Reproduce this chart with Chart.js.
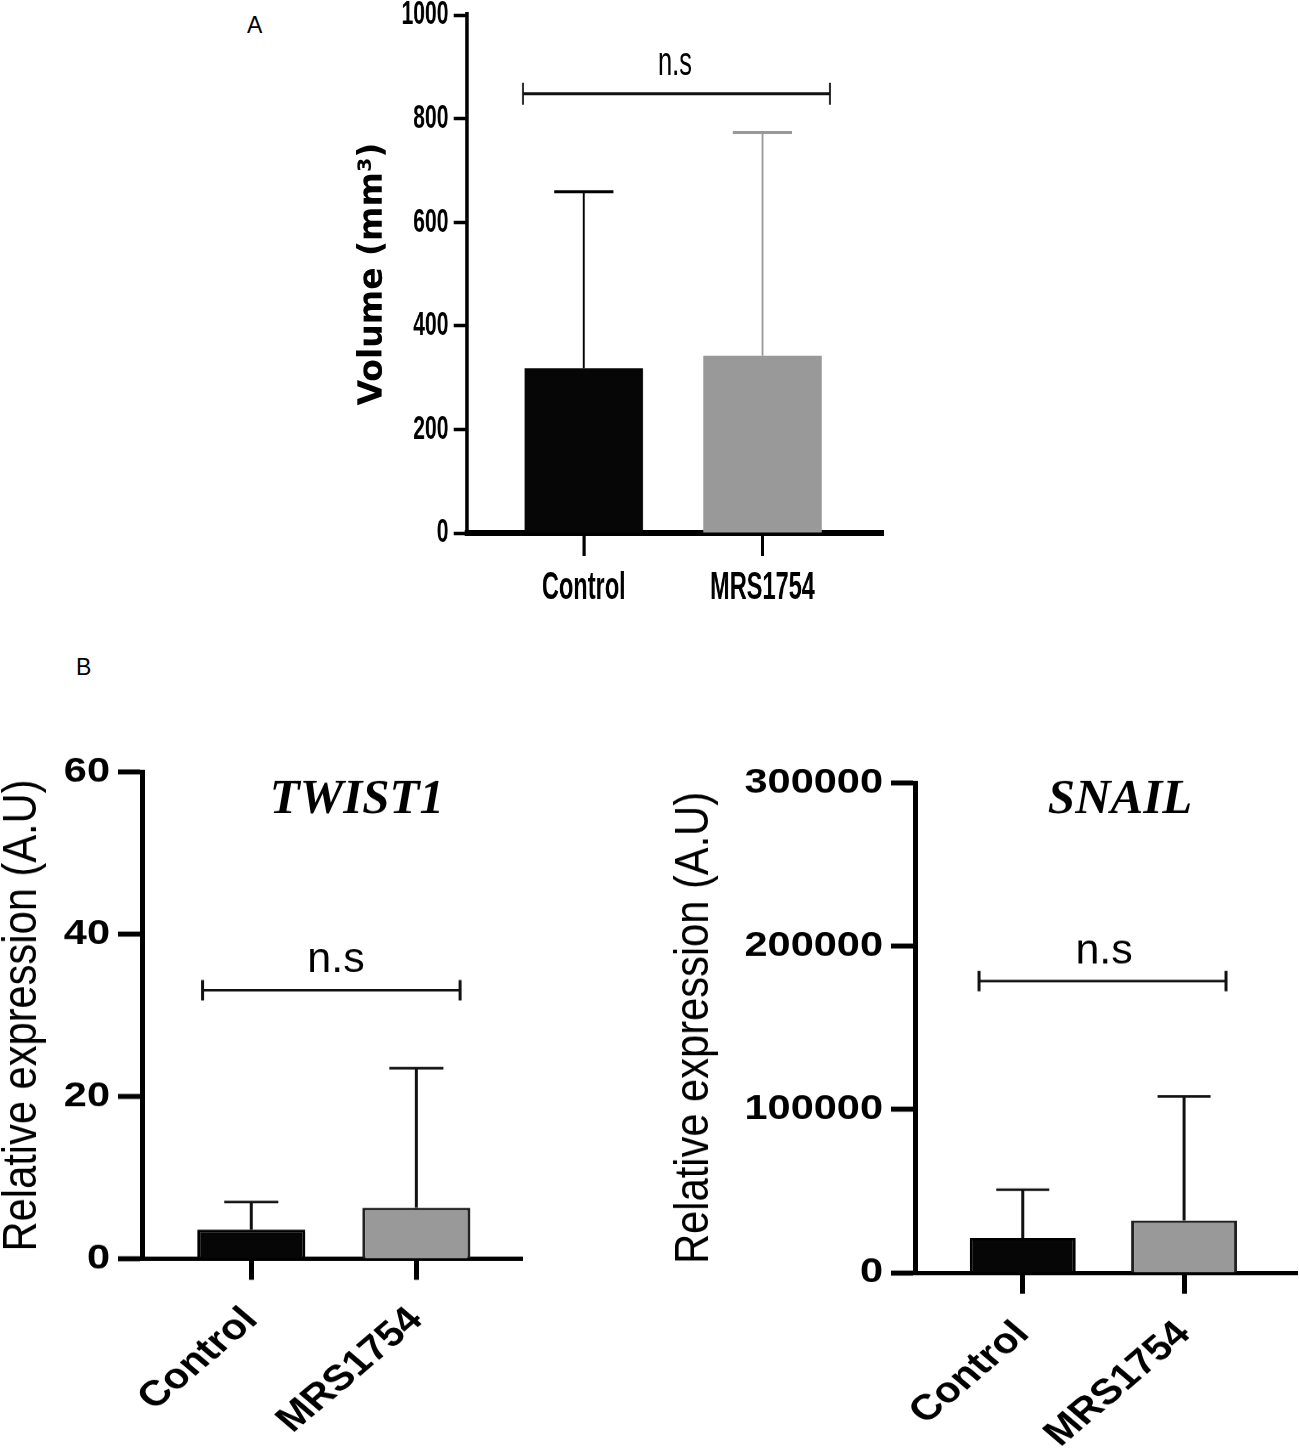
<!DOCTYPE html>
<html>
<head>
<meta charset="utf-8">
<script src="https://cdn.jsdelivr.net/npm/chart.js@4.4.0/dist/chart.umd.min.js"></script>
<style>
  html, body { margin: 0; padding: 0; background: #fff; }
  body { position: relative; width: 1299px; height: 1452px; overflow: hidden; }
  canvas { position: absolute; }
  .panel { position: absolute; font-family: 'Liberation Sans', Arial, sans-serif; font-size: 23px; color: #000; }
</style>
</head>
<body>
<div class="panel" style="left:247px; top:12px;">A</div>
<div class="panel" style="left:76px; top:654px;">B</div>
<canvas id="volumeChart"></canvas>
<canvas id="twistChart"></canvas>
<canvas id="snailChart"></canvas>
<script>
// Data (mean and SD, upper error bar only)
const groups = ['Control', 'MRS1754'];

const volumeMean = [318, 342];
const volumeSD = [341, 431];
const volumeTicks = [0, 200, 400, 600, 800, 1000];

const twistMean = [3.6, 6.3];
const twistSD = [3.4, 17.2];
const twistTicks = [0, 20, 40, 60];

const snailMean = [21400, 32000];
const snailSD = [29500, 76000];
const snailTicks = [0, 100000, 200000, 300000];

const barColors = ['#060606', '#999999'];

// The original panels are stretched, so each canvas is drawn at one size
// and shown at another (sx / sy) to get the same squeezed lettering.
function setupCanvas(id, left, top, w, h, sx, sy) {
    const c = document.getElementById(id);
    c.width = w;
    c.height = h;
    c.style.left = left + 'px';
    c.style.top = top + 'px';
    c.style.width = (w * sx) + 'px';
    c.style.height = (h * sy) + 'px';
    return c;
}

// error bars, significance bracket and free text
function annotations(spec) {
    return {
        id: 'annotations',
        afterDraw(chart) {
            const { ctx, scales: { x, y } } = chart;
            const bars = chart.getDatasetMeta(0).data;
            ctx.save();
            ctx.lineCap = 'butt';

            bars.forEach((bar, i) => {
                const top = y.getPixelForValue(spec.mean[i] + spec.sd[i]);
                const half = bar.width / 4;
                ctx.strokeStyle = spec.errorColors[i];
                ctx.lineWidth = spec.errorWidth;
                ctx.beginPath();
                ctx.moveTo(bar.x, bar.y);
                ctx.lineTo(bar.x, top);
                ctx.moveTo(bar.x - half, top);
                ctx.lineTo(bar.x + half, top);
                ctx.stroke();
            });

            const b = spec.bracket;
            const x1 = x.getPixelForValue(b.from);
            const x2 = x.getPixelForValue(b.to);
            const yb = y.getPixelForValue(b.y);
            ctx.strokeStyle = '#111';
            ctx.lineWidth = b.width;
            ctx.beginPath();
            ctx.moveTo(x1, yb);
            ctx.lineTo(x2, yb);
            ctx.moveTo(x1, yb - b.cap);
            ctx.lineTo(x1, yb + b.cap);
            ctx.moveTo(x2, yb - b.cap);
            ctx.lineTo(x2, yb + b.cap);
            ctx.stroke();

            spec.texts.forEach(t => {
                ctx.save();
                const px = t.px !== undefined ? t.px : x.getPixelForValue(t.x);
                const py = t.py !== undefined ? t.py : y.getPixelForValue(t.y);
                ctx.translate(px, py);
                ctx.scale(t.sx || 1, t.sy || 1);
                if (t.rotate) ctx.rotate(t.rotate);
                ctx.font = t.font;
                ctx.fillStyle = '#000';
                ctx.textAlign = 'center';
                ctx.textBaseline = t.baseline || 'alphabetic';
                ctx.fillText(t.text, 0, 0);
                ctx.restore();
            });
            ctx.restore();
        }
    };
}

function makeBarChart(canvas, c) {
    return new Chart(canvas.getContext('2d'), {
        type: 'bar',
        data: {
            datasets: [{
                data: groups.map((g, i) => ({ x: i, y: c.mean[i] })),
                backgroundColor: barColors,
                borderColor: c.borderColors,
                borderWidth: c.barBorder,
                borderSkipped: 'start',
                barPercentage: c.barPct,
                categoryPercentage: 1
            }]
        },
        options: {
            responsive: false,
            animation: false,
            events: [],
            layout: {
                autoPadding: false,
                padding: { left: 0, top: c.plotTop, right: canvas.width - c.plotRight, bottom: 0 }
            },
            plugins: { legend: { display: false }, tooltip: { enabled: false } },
            scales: {
                x: {
                    type: 'linear',
                    z: 1,
                    bounds: 'data',
                    offset: false,
                    min: c.xMin,
                    max: c.xMax,
                    afterFit: s => {
                        s.height = canvas.height - c.plotBottom;
                        s.paddingLeft = 0;
                        s.paddingRight = 0;
                    },
                    afterBuildTicks: s => { s.ticks = groups.map((g, i) => ({ value: i })); },
                    grid: {
                        offset: false,
                        drawOnChartArea: false,
                        drawTicks: true,
                        tickLength: c.xTickLength,
                        tickWidth: c.xTickWidth,
                        tickColor: '#000',
                        color: '#000'
                    },
                    border: { display: true, color: '#000', width: c.xBorder },
                    ticks: {
                        autoSkip: false,
                        minRotation: c.rotation,
                        maxRotation: c.rotation,
                        padding: c.xLabelPad,
                        color: '#000',
                        font: c.xFont,
                        callback: v => groups[v] || ''
                    }
                },
                y: {
                    min: c.ticks[0],
                    max: c.ticks[c.ticks.length - 1],
                    afterFit: s => {
                        s.width = c.plotLeft;
                        s.paddingTop = 0;
                        s.paddingBottom = 0;
                    },
                    afterBuildTicks: s => { s.ticks = c.ticks.map(v => ({ value: v })); },
                    grid: {
                        drawOnChartArea: false,
                        drawTicks: true,
                        tickLength: c.yTickLength,
                        tickWidth: c.yTickWidth,
                        tickColor: '#000',
                        color: '#000'
                    },
                    border: { display: true, color: '#000', width: c.yBorder },
                    ticks: {
                        padding: c.yLabelPad,
                        color: '#000',
                        font: c.yFont,
                        callback: v => String(v)
                    },
                    title: c.yTitle ? {
                        display: true,
                        text: c.yTitle,
                        color: '#000',
                        font: c.yTitleFont,
                        padding: { top: c.yTitlePad, bottom: 0 }
                    } : { display: false }
                }
            }
        },
        plugins: [annotations(c.marks)]
    });
}

document.addEventListener('DOMContentLoaded', () => {
    // Panel A: squeezed horizontally
    const sxA = 0.62;
    const canvasA = setupCanvas('volumeChart', 340, 0, 903, 620, sxA, 1);
    makeBarChart(canvasA, {
        mean: volumeMean,
        ticks: volumeTicks,
        borderColors: ['#060606', '#999999'],
        barBorder: 0,
        barPct: 0.663,
        plotLeft: 204.4, plotRight: 876, plotTop: 15, plotBottom: 533,
        xMin: -0.655, xMax: 1.676,
        xTickLength: 23, xTickWidth: 5, xBorder: 6, xLabelPad: 10, rotation: 0,
        xFont: { family: 'Liberation Sans', weight: 'bold', size: 38 },
        yTickLength: 21, yTickWidth: 3.5, yBorder: 5.6, yLabelPad: 8.6,
        yFont: { family: 'Liberation Sans', weight: 'bold', size: 34 },
        yTitle: null,
        marks: {
            mean: volumeMean, sd: volumeSD,
            errorColors: ['#000', '#999999'], errorWidth: 3,
            bracket: { from: -0.34, to: 1.378, y: 848, cap: 11, width: 3 },
            texts: [
                { text: 'n.s', x: 0.51, y: 884, font: '41px "Liberation Sans"' },
                { text: 'Volume (mm³)', px: 53.2, py: 274, sx: 1 / sxA, rotate: -Math.PI / 2,
                  baseline: 'middle', font: 'bold 33px "DejaVu Sans"' }
            ]
        }
    });

    // Panel B: squeezed vertically
    const syB = 0.85;
    const bCommon = {
        borderColors: ['#000', '#222'],
        barBorder: 3,
        xTickLength: 24.7, xTickWidth: 5, xBorder: 5, xLabelPad: 23, rotation: 45,
        xFont: { family: 'Liberation Sans', weight: 'bold', size: 42 },
        yTickLength: 24, yTickWidth: 5.9, yBorder: 5, yLabelPad: 8,
        yFont: { family: 'Liberation Sans', weight: 'bold', size: 41.5 },
        yTitle: 'Relative expression (A.U)',
        yTitleFont: { family: 'Liberation Sans', size: 49, lineHeight: 0.92 }
    };

    const canvasT = setupCanvas('twistChart', 0, 740, 540, 838, 1, syB);
    makeBarChart(canvasT, Object.assign({}, bCommon, {
        mean: twistMean,
        ticks: twistTicks,
        barPct: 0.655,
        plotLeft: 142, plotRight: 522, plotTop: 37.65, plotBottom: 610.6,
        xMin: -0.662, xMax: 1.64,
        yTitlePad: 0,
        marks: {
            mean: twistMean, sd: twistSD,
            errorColors: ['#111', '#111'], errorWidth: 3,
            bracket: { from: -0.295, to: 1.265, y: 33.1, cap: 12, width: 3 },
            texts: [
                { text: 'n.s', x: 0.513, y: 35.4, sy: 1 / syB, font: '43px "Liberation Sans"' },
                { text: 'TWIST1', x: 0.64, y: 54.9, sy: 1 / syB, font: 'italic bold 49px "Liberation Serif"' }
            ]
        }
    }));

    const canvasS = setupCanvas('snailChart', 665, 740, 634, 838, 1, syB);
    makeBarChart(canvasS, Object.assign({}, bCommon, {
        mean: snailMean,
        ticks: snailTicks,
        barPct: 0.657,
        plotLeft: 250, plotRight: 632, plotTop: 50.6, plotBottom: 627,
        xMin: -0.668, xMax: 1.70,
        yTitlePad: 6.5,
        marks: {
            mean: snailMean, sd: snailSD,
            errorColors: ['#111', '#111'], errorWidth: 3,
            bracket: { from: -0.271, to: 1.26, y: 178700, cap: 12, width: 3 },
            texts: [
                { text: 'n.s', x: 0.504, y: 189200, sy: 1 / syB, font: '43px "Liberation Sans"' },
                { text: 'SNAIL', x: 0.603, y: 281700, sy: 1 / syB, font: 'italic bold 49px "Liberation Serif"' }
            ]
        }
    }));
});
</script>
</body>
</html>
